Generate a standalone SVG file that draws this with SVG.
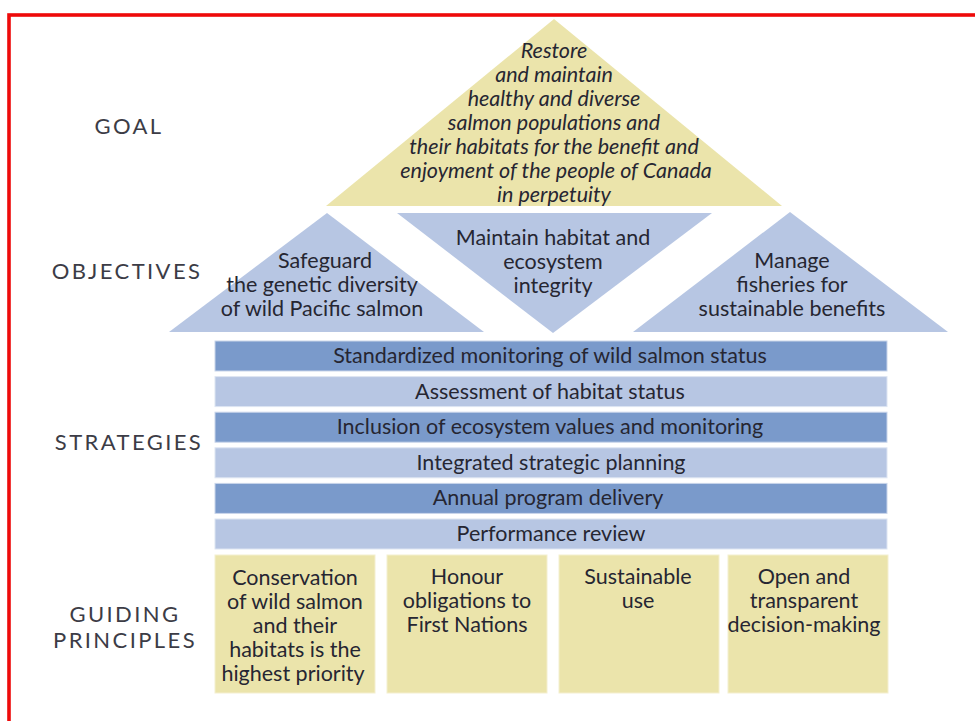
<svg xmlns="http://www.w3.org/2000/svg" width="975" height="721" viewBox="0 0 975 721">
  <style>
    .lbl { font-family: "Lato", "Open Sans", sans-serif; font-size: 22px; fill: #3c3c46; letter-spacing: 2.4px; text-anchor: middle; }
    .goal-t { font-family: "Lato", "Open Sans", sans-serif; font-style: italic; font-size: 21.5px; fill: #262632; text-anchor: middle; }
    .t { font-family: "Lato", "Open Sans", sans-serif; font-size: 21.5px; fill: #262632; text-anchor: middle; }
    .sand { fill: #ebe4ab; }
    .sky { fill: #b7c6e3; }
    .bar-dark { fill: #7a9acb; stroke: #c9d5ea; stroke-width: 1; }
    .bar-light { fill: #b7c6e3; stroke: #dde5f2; stroke-width: 1; }
    .box { fill: #ebe4ab; stroke: #f4efcf; stroke-width: 1; }
  </style>

  <rect x="0" y="0" width="975" height="721" fill="#ffffff"/>
  <!-- page frame -->
  <rect x="9" y="15" width="990" height="720" fill="none" stroke="#ee0a0a" stroke-width="3.6"/>

  <!-- row labels -->
  <g id="labels">
    <text class="lbl" x="129" y="134">GOAL</text>
    <text class="lbl" x="127" y="279">OBJECTIVES</text>
    <text class="lbl" x="129" y="450">STRATEGIES</text>
    <text class="lbl" x="125" y="622">GUIDING</text>
    <text class="lbl" x="125" y="648">PRINCIPLES</text>
  </g>

  <!-- goal -->
  <g id="goal">
    <polygon class="sand" points="326,206 554,19 782,206"/>
    <text class="goal-t" x="554" y="58">Restore</text>
    <text class="goal-t" x="554" y="82">and maintain</text>
    <text class="goal-t" x="554" y="106">healthy and diverse</text>
    <text class="goal-t" x="554" y="130">salmon populations and</text>
    <text class="goal-t" x="554" y="154">their habitats for the benefit and</text>
    <text class="goal-t" x="556" y="178">enjoyment of the people of Canada</text>
    <text class="goal-t" x="554" y="202">in perpetuity</text>
  </g>

  <!-- objectives -->
  <g id="obj-genetic">
    <polygon class="sky" points="169,332 327,213 484,332"/>
    <text class="t" x="325" y="268">Safeguard</text>
    <text class="t" x="322" y="292">the genetic diversity</text>
    <text class="t" x="322" y="316">of wild Pacific salmon</text>
  </g>
  <g id="obj-habitat">
    <polygon class="sky" points="397,213 712,213 553,333"/>
    <text class="t" x="553" y="245">Maintain habitat and</text>
    <text class="t" x="553" y="269">ecosystem</text>
    <text class="t" x="553" y="293">integrity</text>
  </g>
  <g id="obj-fisheries">
    <polygon class="sky" points="633,332 790,212 948,332"/>
    <text class="t" x="792" y="268">Manage</text>
    <text class="t" x="792" y="292">fisheries for</text>
    <text class="t" x="792" y="316">sustainable benefits</text>
  </g>

  <!-- strategies -->
  <g id="str-monitoring">
    <rect class="bar-dark" x="215" y="341" width="672" height="30"/>
    <text class="t" x="550" y="363">Standardized monitoring of wild salmon status</text>
  </g>
  <g id="str-habitat">
    <rect class="bar-light" x="215" y="376.6" width="672" height="30"/>
    <text class="t" x="550" y="399">Assessment of habitat status</text>
  </g>
  <g id="str-ecosystem">
    <rect class="bar-dark" x="215" y="412.2" width="672" height="30"/>
    <text class="t" x="550" y="434">Inclusion of ecosystem values and monitoring</text>
  </g>
  <g id="str-planning">
    <rect class="bar-light" x="215" y="447.8" width="672" height="30"/>
    <text class="t" x="551" y="470">Integrated strategic planning</text>
  </g>
  <g id="str-delivery">
    <rect class="bar-dark" x="215" y="483.4" width="672" height="30"/>
    <text class="t" x="548" y="505">Annual program delivery</text>
  </g>
  <g id="str-review">
    <rect class="bar-light" x="215" y="519" width="672" height="30"/>
    <text class="t" x="551" y="541">Performance review</text>
  </g>

  <!-- guiding principles -->
  <g id="gp-conservation">
    <rect class="box" x="215" y="555" width="160" height="138"/>
    <text class="t" x="295" y="585">Conservation</text>
    <text class="t" x="295" y="609">of wild salmon</text>
    <text class="t" x="295" y="633">and their</text>
    <text class="t" x="295" y="657">habitats is the</text>
    <text class="t" x="293" y="681">highest priority</text>
  </g>
  <g id="gp-first-nations">
    <rect class="box" x="387" y="555" width="160" height="138"/>
    <text class="t" x="467" y="584">Honour</text>
    <text class="t" x="467" y="608">obligations to</text>
    <text class="t" x="467" y="632">First Nations</text>
  </g>
  <g id="gp-sustainable">
    <rect class="box" x="559" y="555" width="160" height="138"/>
    <text class="t" x="638" y="584">Sustainable</text>
    <text class="t" x="638" y="608">use</text>
  </g>
  <g id="gp-transparent">
    <rect class="box" x="728" y="555" width="160" height="138"/>
    <text class="t" x="804" y="584">Open and</text>
    <text class="t" x="804" y="608">transparent</text>
    <text class="t" x="804" y="632">decision-making</text>
  </g>
</svg>
